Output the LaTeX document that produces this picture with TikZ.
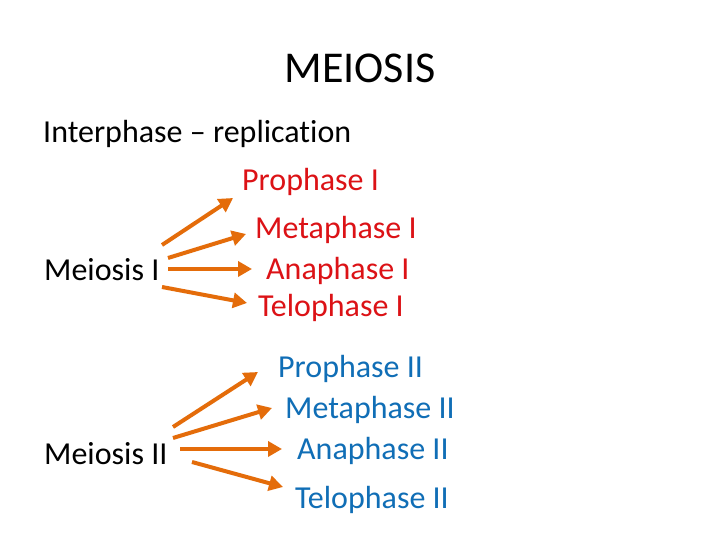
\documentclass[tikz,border=0pt]{standalone}
\usepackage{fontspec}
\setmainfont{Carlito}[Ligatures=NoCommon]
\usepackage{tkz-euclide}
\usepackage{tikz}
\usetikzlibrary{arrows.meta}
\tikzset{>={Triangle[length=14pt,width=15pt]}}
\colorlet{background}{white}
\definecolor{penColor}{RGB}{228,108,10}
\definecolor{textRed}{RGB}{220,18,22}
\definecolor{textBlue}{RGB}{16,110,182}
\tikzset{
  label/.style={anchor=base west,inner sep=0pt,font=\fontsize{32}{38}\selectfont},
  redlabel/.style={label,text=textRed},
  bluelabel/.style={label,text=textBlue},
  arr/.style={->,penColor,line width=4pt}
}

\begin{document}
\begin{tikzpicture}[x=1pt,y=1pt]
    \fill[background] (0,0) rectangle (720,540);
    \useasboundingbox (0,0) rectangle (720,540);

    \node[anchor=base,inner sep=0pt,font=\fontsize{44}{52}\selectfont] (title) at (360,457) {MEIOSIS};
    \node[label] (inter) at (43,397) {Interphase -- replication};

    % first division
    \node[label] (mI) at (44,259) {Meiosis I};
    \node[redlabel] (proI) at (242,349) {Prophase I};
    \node[redlabel] (metI) at (255,301) {Metaphase I};
    \node[redlabel] (anaI) at (266,260) {Anaphase I};
    \node[redlabel] (telI) at (258,223) {Telophase I};

    \tkzDefPoint(162,295){S1}
    \tkzDefPoint(233,342){T1}
    \tkzDefPoint(168,282){S2}
    \tkzDefPoint(246,306){T2}
    \tkzDefPoint(168,271){S3}
    \tkzDefPoint(252,271){T3}
    \tkzDefPoint(162,253){S4}
    \tkzDefPoint(247,237){T4}
    \foreach \i in {1,...,4}
      \draw[arr] (S\i)--(T\i);

    % second division
    \node[label] (mII) at (44,75) {Meiosis II};
    \node[bluelabel] (proII) at (278,162) {Prophase II};
    \node[bluelabel] (metII) at (285,121) {Metaphase II};
    \node[bluelabel] (anaII) at (297,80) {Anaphase II};
    \node[bluelabel] (telII) at (295,31) {Telophase II};

    \tkzDefPoint(173,113){U1}
    \tkzDefPoint(258,168){V1}
    \tkzDefPoint(173,102){U2}
    \tkzDefPoint(272,132){V2}
    \tkzDefPoint(180,91){U3}
    \tkzDefPoint(282,91){V3}
    \tkzDefPoint(192,78){U4}
    \tkzDefPoint(283,53){V4}
    \foreach \i in {1,...,4}
      \draw[arr] (U\i)--(V\i);

  \end{tikzpicture}
\end{document}
